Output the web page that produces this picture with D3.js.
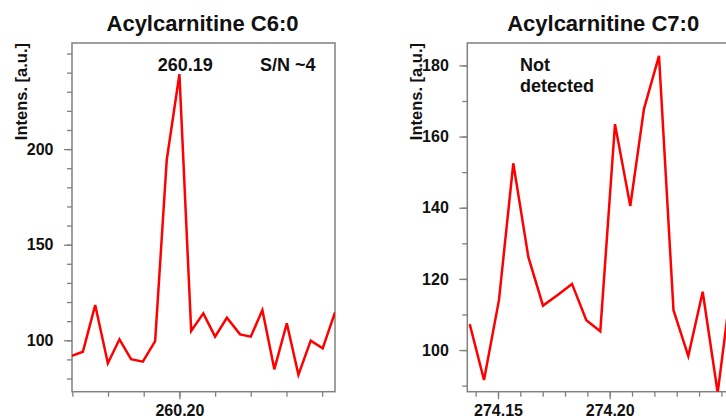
<!DOCTYPE html>
<html>
<head>
<meta charset="utf-8">
<script src="https://cdn.jsdelivr.net/npm/d3@7"></script>
<style>
  body { margin: 0; background: #fff; }
  svg { display: block; font-family: "Liberation Sans", Arial, sans-serif; }
</style>
</head>
<body>
<svg id="chart"></svg>
<script>
  // C6:0 spectrum (left panel)
  var c6Mz = [260.19397, 260.19459, 260.19528, 260.19599, 260.19664, 260.19729, 260.19795, 260.19864,
              260.19929, 260.20000, 260.20066, 260.20134, 260.20200, 260.20266, 260.20340, 260.20400,
              260.20465, 260.20532, 260.20602, 260.20667, 260.20736, 260.20803, 260.20872];
  var c6Int = [91.8, 94.0, 118.4, 88.0, 100.5, 90.1, 88.8, 99.6,
               194.3, 239.2, 104.9, 114.1, 101.9, 111.8, 103.1, 101.9,
               115.8, 84.8, 108.9, 81.9, 99.8, 95.8, 114.6];
  var c6XLabels = [260.20];
  var c6XMinor = [260.194, 260.196, 260.198, 260.200, 260.202, 260.204, 260.206, 260.208];
  var c6YLabels = [100, 150, 200];
  var c6YMinor = [80, 90, 100, 110, 120, 130, 140, 150, 160, 170, 180, 190, 200, 210, 220, 230, 240, 250];

  // C7:0 spectrum (right panel)
  var c7Mz = [274.13734, 274.14374, 274.15045, 274.15685, 274.16357, 274.17015, 274.17672, 274.18313,
              274.18953, 274.19579, 274.20237, 274.20922, 274.21535, 274.22207, 274.22856, 274.23518,
              274.24163, 274.24834, 274.25492];
  var c7Int = [107.3, 91.6, 114.1, 152.5, 126.2, 112.5, 115.5, 118.6,
               108.4, 105.3, 163.5, 140.5, 167.8, 182.7, 111.2, 98.3,
               116.4, 88.0, 120.5];
  var c7XLabels = [274.15, 274.20];
  var c7XMinor = [274.14, 274.15, 274.16, 274.17, 274.18, 274.19, 274.20, 274.21, 274.22, 274.23, 274.24, 274.25];
  var c7YLabels = [100, 120, 140, 160, 180];
  var c7YMinor = [90, 100, 110, 120, 130, 140, 150, 160, 170, 180];

  var svgWidth = 726, svgHeight = 420;
  var plotTop = 43, plotBottom = 391.7;
  var axisColor = "#808080";

  var svg = d3.select("#chart")
      .attr("width", svgWidth)
      .attr("height", svgHeight);

  drawPanel({
    id: "c6", left: 72, right: 335,
    xDomain: [260.19398, 260.20872], yDomain: [73.1, 255.5],
    mz: c6Mz, inten: c6Int,
    xLabels: c6XLabels, xMinor: c6XMinor, yLabels: c6YLabels, yMinor: c6YMinor,
    title: "Acylcarnitine C6:0",
    notes: [{ text: "260.19", x: 185.3, y: 70.5, anchor: "middle" },
            { text: "S/N ~4", x: 260, y: 70.5, anchor: "start" }]
  });

  drawPanel({
    id: "c7", left: 467.3, right: 739,
    xDomain: [274.13626, 274.25788], yDomain: [88.3, 186.3],
    mz: c7Mz, inten: c7Int,
    xLabels: c7XLabels, xMinor: c7XMinor, yLabels: c7YLabels, yMinor: c7YMinor,
    title: "Acylcarnitine C7:0",
    notes: [{ text: "Not", x: 520, y: 70.7, anchor: "start" },
            { text: "detected", x: 520, y: 92.3, anchor: "start" }]
  });

  function drawPanel(p) {
    var x = d3.scaleLinear().domain(p.xDomain).range([p.left, p.right]);
    var y = d3.scaleLinear().domain(p.yDomain).range([plotBottom, plotTop]);

    var g = svg.append("g");

    // minor ticks first
    g.append("g")
        .attr("class", "minor")
        .attr("transform", "translate(" + p.left + ",0)")
        .call(d3.axisLeft(y).tickValues(p.yMinor).tickSize(5).tickFormat(""));
    g.append("g")
        .attr("class", "minor")
        .attr("transform", "translate(0," + plotBottom + ")")
        .call(d3.axisBottom(x).tickValues(p.xMinor).tickSize(5).tickFormat(""));

    g.append("g")
        .attr("class", "major")
        .attr("transform", "translate(" + p.left + ",0)")
        .call(d3.axisLeft(y).tickValues(p.yLabels).tickSize(8).tickPadding(10.5));
    g.append("g")
        .attr("class", "major")
        .attr("transform", "translate(0," + plotBottom + ")")
        .call(d3.axisBottom(x).tickValues(p.xLabels).tickSize(7.5).tickPadding(5.5)
              .tickFormat(d3.format(".2f")));

    g.selectAll(".domain").remove();
    g.selectAll(".tick line").attr("stroke", axisColor).attr("stroke-width", 1.3);
    g.selectAll(".tick text")
        .attr("fill", "#111")
        .attr("font-family", "'Liberation Sans', Arial, sans-serif")
        .attr("font-weight", "bold")
        .attr("font-size", 16);

    // frame
    g.append("rect")
        .attr("x", p.left)
        .attr("y", plotTop)
        .attr("width", p.right - p.left)
        .attr("height", plotBottom - plotTop)
        .attr("fill", "none")
        .attr("stroke", axisColor)
        .attr("stroke-width", 1.5);

    g.append("clipPath")
        .attr("id", "clip-" + p.id)
        .append("rect")
        .attr("x", p.left)
        .attr("y", plotTop)
        .attr("width", p.right - p.left)
        .attr("height", plotBottom - plotTop);

    var data = p.mz.map(function(d, i) { return { mz: d, val: p.inten[i] }; });

    var line = d3.line()
        .x(function(d) { return x(d.mz); })
        .y(function(d) { return y(d.val); });

    g.append("path")
        .datum(data)
        .attr("clip-path", "url(#clip-" + p.id + ")")
        .attr("fill", "none")
        .attr("stroke", "#ff0000")
        .attr("stroke-width", 2.5)
        .attr("d", line);

    // title
    g.append("text")
        .attr("x", (p.left + p.right) / 2 - (p.id == "c7" ? 0 : 1))
        .attr("y", 30.7)
        .attr("text-anchor", "middle")
        .attr("font-size", 22)
        .attr("font-weight", "bold")
        .attr("fill", "#111")
        .text(p.title);

    // y axis title
    g.append("text")
        .attr("transform", "translate(" + (p.left - 45.5) + "," + plotTop + ") rotate(-90)")
        .attr("text-anchor", "end")
        .attr("font-size", 16.5)
        .attr("font-weight", "bold")
        .attr("fill", "#111")
        .text("Intens. [a.u.]");

    g.selectAll(".note")
        .data(p.notes)
        .enter()
        .append("text")
        .attr("class", "note")
        .attr("x", function(d) { return d.x; })
        .attr("y", function(d) { return d.y; })
        .attr("text-anchor", function(d) { return d.anchor; })
        .attr("font-size", 18)
        .attr("font-weight", "bold")
        .attr("fill", "#111")
        .text(function(d) { return d.text; });
  }
</script>
</body>
</html>
